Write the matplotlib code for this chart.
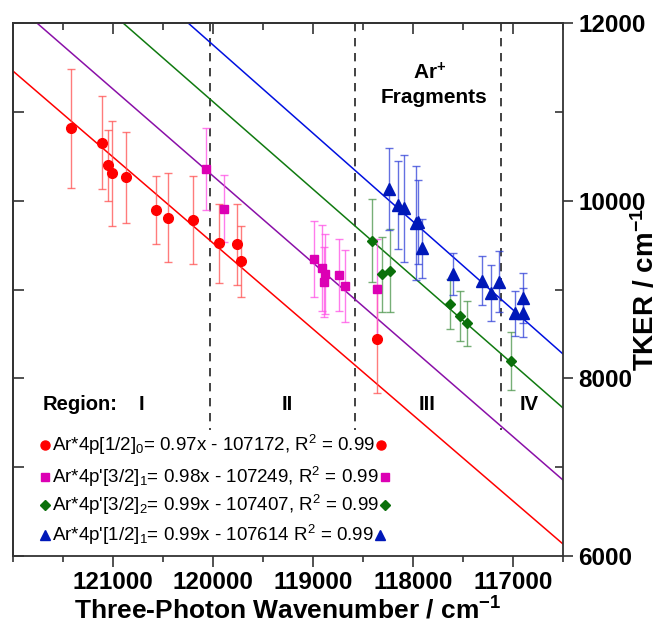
import matplotlib
matplotlib.use("Agg")
import matplotlib.pyplot as plt
import numpy as np

plt.rcParams['font.family'] = ['Liberation Sans', 'DejaVu Sans']
plt.rcParams['mathtext.fontset'] = 'custom'
plt.rcParams['mathtext.rm'] = 'Liberation Sans'
plt.rcParams['mathtext.it'] = 'Liberation Sans:italic'
plt.rcParams['mathtext.bf'] = 'Liberation Sans:bold'

# data (wavenumber, TKER, error)
red_x = [121420, 121107, 121053, 121010, 120870, 120570, 120450, 120197, 119937, 119763, 119723, 118363]
red_y = [10815, 10653, 10398, 10308, 10263, 9895, 9809, 9782, 9520, 9509, 9317, 8439]
red_err = [670, 520, 400, 590, 515, 386, 505, 500, 443, 455, 398, 608]

mag_x = [120073, 119890, 118993, 118907, 118880, 118890, 118737, 118677, 118363]
mag_y = [10356, 9910, 9340, 9239, 9175, 9084, 9163, 9043, 9002]
mag_err = [460, 375, 426, 485, 450, 396, 408, 405, 570]

green_x = [118410, 118307, 118230, 117630, 117530, 117457, 117023]
green_y = [9549, 9171, 9212, 8837, 8705, 8619, 8199]
green_err = [470, 420, 470, 284, 282, 250, 325]

blue_x = [118237, 118153, 118087, 117970, 117950, 117913, 117597, 117307, 117217, 117140, 116977, 116903, 116897]
blue_y = [10128, 9951, 9914, 9745, 9760, 9464, 9174, 9099, 8957, 9088, 8732, 8739, 8901]
blue_err = [460, 495, 600, 640, 470, 335, 235, 275, 315, 345, 250, 275, 280]

# fitted lines as drawn: TKER = slope*x - offset
fit_slopes = [0.968, 0.978, 0.985, 0.994]
fit_offsets = [106637, 107082, 107086, 107527]

legend_texts = [
    "Ar*4p[1/2]$_0$= 0.97x - 107172, R$^2$ = 0.99",
    "Ar*4p'[3/2]$_1$= 0.98x - 107249, R$^2$ = 0.99",
    "Ar*4p'[3/2]$_2$= 0.99x - 107407, R$^2$ = 0.99",
    "Ar*4p'[1/2]$_1$= 0.99x - 107614 R$^2$ = 0.99",
]

region_bounds = [120030, 118580, 117120]
region_names = ["I", "II", "III", "IV"]
region_pos = [120720, 119260, 117860, 116840]

line_colors = ['#ff0000', '#8a10a8', '#107a10', '#0010e0']
marker_colors = ['#ff0000', '#dc00b4', '#0a700a', '#0018b8']
bar_colors = ['#ff5050', '#ff50e6', '#4a944a', '#3040d8']
markers = ['o', 's', 'D', '^']
msizes = [7, 6, 5.5, 8]

fig = plt.figure(figsize=(6.62, 6.26), dpi=100)
ax = fig.add_axes([13/662, 1 - 556/626, 550/662, 533/626])

xlo, xhi = 116500, 122000
xx = np.array([xhi, xlo])
for m, b, c in zip(fit_slopes, fit_offsets, line_colors):
    ax.plot(xx, m * xx - b, color=c, lw=1.1, zorder=2)

series = [(red_x, red_y, red_err), (mag_x, mag_y, mag_err),
          (green_x, green_y, green_err), (blue_x, blue_y, blue_err)]
for (sx, sy, se), mc, bc, mk, ms in zip(series, marker_colors, bar_colors, markers, msizes):
    ax.errorbar(sx, sy, yerr=se, fmt='none', ecolor=bc, elinewidth=1.0,
                capsize=3, capthick=1.0, alpha=0.75, zorder=3)
    ax.plot(sx, sy, mk, color=mc, ms=ms, mec=mc, zorder=4)

for xb in region_bounds:
    ax.plot([xb, xb], [12000, 7420], color='#222222', lw=1.2, ls=(0, (5, 4)), zorder=1)

ax.text(121700, 7700, "Region:", fontsize=14.5, fontweight='bold', ha='left', va='center')
for name, xp in zip(region_names, region_pos):
    ax.text(xp, 7700, name, fontsize=14.5, fontweight='bold', ha='center', va='center')

ax.text(117830, 11440, r"Ar$^{\mathbf{+}}$", fontsize=15, fontweight='bold', ha='center', va='center')
ax.text(117790, 11160, "Fragments", fontsize=15, fontweight='bold', ha='center', va='center')

ax.set_xlim(xhi, xlo)
ax.set_ylim(6000, 12000)

# equation rows with a marker in front and behind the text
row_y = [0.208, 0.148, 0.0957, 0.0394]
fig.canvas.draw()
renderer = fig.canvas.get_renderer()
inv = ax.transAxes.inverted()
for ty, txt, mc, mk in zip(row_y, legend_texts, marker_colors, markers):
    ms = 6.5 if mk in ('o', '^') else 5.5
    t = ax.text(0.071, ty, txt, fontsize=13.5, ha='left', va='center', transform=ax.transAxes)
    bb = t.get_window_extent(renderer=renderer)
    ex = inv.transform((bb.x1 + 6, bb.y0))[0]
    ax.plot([0.058, ex], [ty, ty], mk, color=mc, ms=ms, transform=ax.transAxes,
            clip_on=False, zorder=5)

spine_c = '#333333'
for s in ax.spines.values():
    s.set_linewidth(1.3)
    s.set_color(spine_c)

ax.set_xticks([121000, 120000, 119000, 118000, 117000])
ax.set_xticks(np.arange(116500, 122001, 500), minor=True)
ax.tick_params(axis='x', which='major', direction='out', length=8, width=1.2, color=spine_c,
               labelsize=17.5, pad=3)
ax.tick_params(axis='x', which='minor', direction='out', length=4, width=1.2, color=spine_c)

ax.yaxis.tick_right()
ax.set_yticks([6000, 8000, 10000, 12000])
ax.set_yticks([7000, 9000, 11000], minor=True)
ax.tick_params(axis='y', which='major', direction='out', length=7, width=1.2, color=spine_c,
               labelsize=17.5, pad=4)
ax.tick_params(axis='y', which='minor', direction='in', length=6, width=1.2, color=spine_c)
for lab in ax.get_xticklabels() + ax.get_yticklabels():
    lab.set_fontweight('bold')

top = ax.secondary_xaxis('top')
top.set_xticks([121000, 120000, 119000, 118000, 117000])
top.set_xticks(np.arange(116500, 122001, 500), minor=True)
top.tick_params(which='major', direction='in', length=8, width=1.2, color=spine_c, labeltop=False)
top.tick_params(which='minor', direction='in', length=5, width=1.2, color=spine_c)
top.spines['top'].set_linewidth(1.3)
top.spines['top'].set_color(spine_c)

left = ax.secondary_yaxis('left')
left.set_yticks(np.arange(6000, 12001, 1000))
left.tick_params(which='major', direction='in', length=8, width=1.2, color=spine_c, labelleft=False)
left.tick_params(which='minor', left=False)
left.spines['left'].set_linewidth(1.3)
left.spines['left'].set_color(spine_c)

ax.set_xlabel(r"Three-Photon Wavenumber / cm$^{\mathbf{-1}}$", fontsize=19, fontweight='bold')
ax.xaxis.set_label_coords(0.5, -0.076)
ax.yaxis.set_label_position('right')
ax.set_ylabel(r"TKER / cm$^{\mathbf{-1}}$", fontsize=20, fontweight='bold')
ax.yaxis.set_label_coords(1.124, 0.5)

fig.savefig("out.png", dpi=100)
